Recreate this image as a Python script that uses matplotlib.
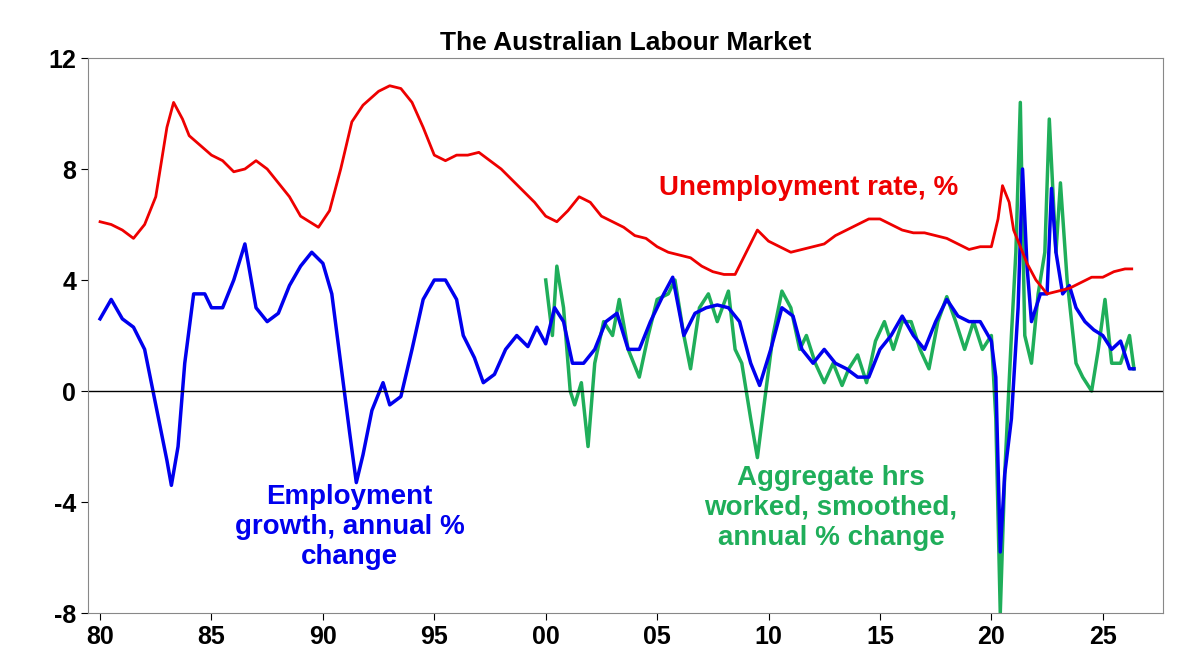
import matplotlib.pyplot as plt

# unemployment rate, %
unemp_x = [1980, 1980.5, 1981, 1981.5, 1982, 1982.5, 1983, 1983.3, 1983.7, 1984, 1985, 1985.5, 1986, 1986.5,
           1987, 1987.5, 1988, 1988.5, 1989, 1989.8, 1990.3, 1990.8, 1991.3, 1991.8, 1992.5, 1993, 1993.5,
           1994, 1994.5, 1995, 1995.5, 1996, 1996.5, 1997, 1997.5, 1998, 1998.5, 1999, 1999.5, 2000, 2000.5,
           2001, 2001.5, 2002, 2002.5, 2003, 2003.5, 2004, 2004.5, 2005, 2005.5, 2006, 2006.5, 2007, 2007.5,
           2008, 2008.5, 2009, 2009.5, 2010, 2010.5, 2011, 2011.5, 2012, 2012.5, 2013, 2013.5, 2014, 2014.5,
           2015, 2015.5, 2016, 2016.5, 2017, 2017.5, 2018, 2018.5, 2019, 2019.5, 2020, 2020.3, 2020.5, 2020.8,
           2021, 2021.3, 2021.6, 2022, 2022.5, 2023, 2023.5, 2024, 2024.5, 2025, 2025.5, 2026, 2026.3]
unemp_y = [6.1, 6.0, 5.8, 5.5, 6.0, 7.0, 9.5, 10.4, 9.8, 9.2, 8.5, 8.3, 7.9, 8.0,
           8.3, 8.0, 7.5, 7.0, 6.3, 5.9, 6.5, 8.0, 9.7, 10.3, 10.8, 11.0, 10.9,
           10.4, 9.5, 8.5, 8.3, 8.5, 8.5, 8.6, 8.3, 8.0, 7.6, 7.2, 6.8, 6.3, 6.1,
           6.5, 7.0, 6.8, 6.3, 6.1, 5.9, 5.6, 5.5, 5.2, 5.0, 4.9, 4.8, 4.5, 4.3,
           4.2, 4.2, 5.0, 5.8, 5.4, 5.2, 5.0, 5.1, 5.2, 5.3, 5.6, 5.8, 6.0, 6.2,
           6.2, 6.0, 5.8, 5.7, 5.7, 5.6, 5.5, 5.3, 5.1, 5.2, 5.2, 6.2, 7.4, 6.8,
           5.8, 5.2, 4.6, 4.0, 3.5, 3.6, 3.7, 3.9, 4.1, 4.1, 4.3, 4.4, 4.4]

# employment growth, annual % change
emp_x = [1980, 1980.5, 1981, 1981.5, 1982, 1982.5, 1983, 1983.2, 1983.5, 1983.8, 1984.2, 1984.7, 1985, 1985.5,
         1986, 1986.5, 1987, 1987.5, 1988, 1988.5, 1989, 1989.5, 1990, 1990.4, 1990.8, 1991.2, 1991.5, 1991.8,
         1992.2, 1992.7, 1993, 1993.5, 1994, 1994.5, 1995, 1995.5, 1996, 1996.3, 1996.8, 1997.2, 1997.7, 1998.2,
         1998.7, 1999.2, 1999.6, 2000, 2000.4, 2000.8, 2001.2, 2001.7, 2002.2, 2002.7, 2003.2, 2003.7, 2004.2,
         2004.7, 2005.3, 2005.7, 2006.2, 2006.7, 2007.2, 2007.7, 2008.2, 2008.7, 2009.2, 2009.6, 2010.1, 2010.6,
         2011.1, 2011.5, 2012, 2012.5, 2013, 2013.5, 2014, 2014.5, 2015, 2015.5, 2016, 2016.5, 2017, 2017.5,
         2018, 2018.5, 2019, 2019.5, 2020, 2020.2, 2020.4, 2020.6, 2020.9, 2021.2, 2021.4, 2021.6, 2021.8,
         2022.2, 2022.5, 2022.7, 2022.9, 2023.2, 2023.5, 2023.8, 2024.2, 2024.6, 2025, 2025.4, 2025.8, 2026.2, 2026.4]
emp_y = [2.6, 3.3, 2.6, 2.3, 1.5, -0.5, -2.5, -3.4, -2.0, 1.0, 3.5, 3.5, 3.0, 3.0,
         4.0, 5.3, 3.0, 2.5, 2.8, 3.8, 4.5, 5.0, 4.6, 3.5, 1.0, -1.5, -3.3, -2.3,
         -0.7, 0.3, -0.5, -0.2, 1.5, 3.3, 4.0, 4.0, 3.3, 2.0, 1.2, 0.3, 0.6, 1.5,
         2.0, 1.6, 2.3, 1.7, 3.0, 2.5, 1.0, 1.0, 1.5, 2.5, 2.8, 1.5, 1.5,
         2.5, 3.5, 4.1, 2.0, 2.8, 3.0, 3.1, 3.0, 2.5, 1.0, 0.2, 1.5, 3.0,
         2.7, 1.5, 1.0, 1.5, 1.0, 0.8, 0.5, 0.5, 1.5, 2.0, 2.7, 2.0, 1.5, 2.5,
         3.3, 2.7, 2.5, 2.5, 1.8, 0.5, -5.8, -3.0, -1.0, 3.0, 8.0, 4.5, 2.5,
         3.5, 3.5, 7.3, 5.0, 3.5, 3.8, 3.0, 2.5, 2.2, 2.0, 1.5, 1.8, 0.8, 0.8]

# aggregate hours worked, smoothed, annual % change
hrs_x = [2000, 2000.3, 2000.5, 2000.8, 2001.1, 2001.3, 2001.6, 2001.9, 2002.2, 2002.6, 2003.0, 2003.3, 2003.7,
         2004.2, 2004.6, 2005.0, 2005.5, 2005.8, 2006.2, 2006.5, 2006.9, 2007.3, 2007.7, 2008.2, 2008.5, 2008.8,
         2009.2, 2009.5, 2009.8, 2010.2, 2010.6, 2011, 2011.4, 2011.7, 2012.1, 2012.5, 2012.9, 2013.3, 2013.6,
         2014, 2014.4, 2014.8, 2015.2, 2015.6, 2016, 2016.4, 2016.8, 2017.2, 2017.6, 2018, 2018.4, 2018.8,
         2019.2, 2019.6, 2020, 2020.2, 2020.4, 2020.6, 2020.9, 2021.1, 2021.3, 2021.5, 2021.8, 2022.1, 2022.4,
         2022.6, 2022.9, 2023.1, 2023.4, 2023.8, 2024.1, 2024.5, 2024.8, 2025.1, 2025.4, 2025.8, 2026.2, 2026.4]
hrs_y = [4.0, 2.0, 4.5, 3.0, 0.0, -0.5, 0.3, -2.0, 1.0, 2.5, 2.0, 3.3, 1.5,
         0.5, 2.0, 3.3, 3.5, 4.0, 2.0, 0.8, 3.0, 3.5, 2.5, 3.6, 1.5, 1.0,
         -1.0, -2.4, -0.5, 2.0, 3.6, 3.0, 1.5, 2.0, 1.0, 0.3, 1.0, 0.2, 0.8,
         1.3, 0.3, 1.8, 2.5, 1.5, 2.5, 2.5, 1.5, 0.8, 2.5, 3.4, 2.5, 1.5,
         2.5, 1.5, 2.0, -1.0, -8.0, -3.0, 2.0, 5.0, 10.4, 2.0, 1.0, 3.5, 5.0,
         9.8, 5.0, 7.5, 4.0, 1.0, 0.5, 0.0, 1.5, 3.3, 1.0, 1.0, 2.0, 0.8]

xticks = [1980, 1985, 1990, 1995, 2000, 2005, 2010, 2015, 2020, 2025]
xlabels = ['80', '85', '90', '95', '00', '05', '10', '15', '20', '25']

plt.rcParams['font.family'] = ['Liberation Sans', 'DejaVu Sans']
plt.rcParams['font.weight'] = 'bold'

fig = plt.figure(figsize=(12.01, 6.69), dpi=100)
ax = fig.add_axes([0.0733, 0.0837, 0.895, 0.8296])

ax.plot(hrs_x, hrs_y, color='#1fae5a', lw=2.5)
ax.plot(emp_x, emp_y, color='#0000ee', lw=2.5)
ax.plot(unemp_x, unemp_y, color='#ee0000', lw=2)

ax.set_xlim(1979.46, 2027.7)
ax.set_ylim(-8, 12)
ax.set_yticks([-8, -4, 0, 4, 8, 12])
ax.set_yticklabels(['-8', '-4', '0', '4', '8', '12'])
ax.set_xticks(xticks)
ax.set_xticklabels(xlabels)
ax.tick_params(labelsize=18, length=5, direction='out')
ax.axhline(0, color='black', lw=1)
for s in ax.spines.values():
    s.set_color('#888888')

ax.set_title('The Australian Labour Market', fontsize=19, fontweight='bold', pad=6)

ax.text(2011.8, 7.3, 'Unemployment rate, %', color='#ee0000', fontsize=20, ha='center', va='center')
ax.text(1991.2, -4.9, 'Employment\ngrowth, annual %\nchange', color='#0000ee', fontsize=20,
        ha='center', va='center', linespacing=1.2)
ax.text(2012.8, -4.2, 'Aggregate hrs\nworked, smoothed,\nannual % change', color='#1fae5a', fontsize=20,
        ha='center', va='center', linespacing=1.2)

fig.savefig('out.png', dpi=100)
